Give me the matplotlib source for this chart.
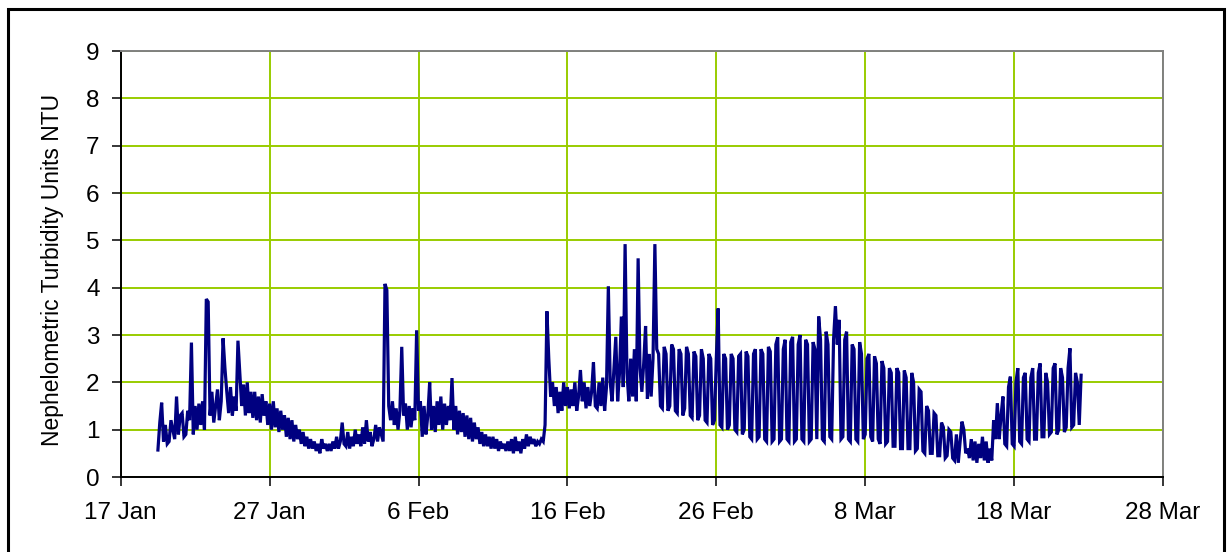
import numpy as np
import pandas as pd
import matplotlib
matplotlib.use("Agg")
import matplotlib.pyplot as plt
from matplotlib.patches import Rectangle

# ---------------- data (NTU, 3-hourly, starting 19 Jan 12:00) ----------------
series_start = "2007-01-19 12:00"
step = "3h"

turb_late_jan = [
    0.57, 1.15, 1.57, 0.75,                            # 19 Jan (from 12:00)
    1.10, 0.70, 0.75, 1.20, 1.00, 0.80, 1.70, 0.90,    # 20
    1.30, 1.35, 0.85, 0.90, 1.40, 1.20, 2.84, 0.90,    # 21
    1.50, 1.00, 1.55, 1.10, 1.60, 1.00, 3.76, 3.70,    # 22
    1.30, 1.80, 1.15, 1.50, 1.85, 1.20, 1.60, 2.93,    # 23
    2.30, 1.80, 1.35, 1.90, 1.30, 1.70, 1.40, 2.88,    # 24
    2.20, 1.50, 1.95, 1.30, 2.00, 1.35, 1.80, 1.25,    # 25
    1.80, 1.20, 1.70, 1.15, 1.75, 1.30, 1.60, 1.10,    # 26
    1.55, 1.00, 1.60, 1.05, 1.45, 0.95, 1.40, 1.00,    # 27
    1.30, 0.85, 1.25, 0.80, 1.20, 0.75, 1.10, 0.80,    # 28
    1.00, 0.70, 0.95, 0.65, 0.85, 0.60, 0.80, 0.60,    # 29
    0.75, 0.55, 0.70, 0.50, 0.80, 0.60, 0.70, 0.55,    # 30
    0.70, 0.55, 0.75, 0.60, 0.85, 0.60, 0.75, 1.15,    # 31
]

turb_early_feb = [
    0.70, 0.65, 0.95, 0.60, 0.85, 0.65, 1.00, 0.70,    # 1 Feb
    0.90, 0.65, 1.05, 0.70, 1.20, 0.75, 0.95, 0.65,    # 2
    0.80, 1.10, 0.75, 1.05, 0.90, 0.75, 4.08, 3.95,    # 3
    1.50, 1.20, 1.60, 1.10, 1.45, 1.00, 1.40, 2.75,    # 4
    1.30, 1.55, 1.00, 1.50, 1.05, 1.45, 1.20, 3.10,    # 5
    1.40, 1.60, 0.85, 1.50, 0.90, 1.30, 2.00, 1.00,    # 6
    1.50, 0.95, 1.60, 1.10, 1.70, 1.00, 1.55, 1.10,    # 7
    1.50, 1.20, 2.09, 1.00, 1.50, 0.90, 1.40, 0.95,    # 8
    1.35, 0.85, 1.30, 0.80, 1.25, 0.75, 1.15, 0.80,    # 9
    1.05, 0.70, 0.95, 0.65, 0.90, 0.65, 0.85, 0.60,    # 10
    0.85, 0.60, 0.80, 0.55, 0.75, 0.60, 0.70, 0.55,    # 11
    0.75, 0.55, 0.80, 0.50, 0.85, 0.55, 0.75, 0.50,    # 12
    0.80, 0.60, 0.90, 0.65, 0.85, 0.70, 0.80, 0.65,    # 13
    0.75, 0.70, 0.80, 0.75, 1.10, 3.50, 2.50, 1.70,    # 14
]

turb_late_feb = [
    2.00, 1.50, 1.90, 1.35, 1.80, 1.40, 2.00, 1.50,    # 15 Feb
    1.90, 1.45, 1.85, 1.50, 2.00, 1.40, 1.70, 2.26,    # 16
    1.60, 2.00, 1.45, 1.90, 1.50, 1.80, 2.42, 1.50,    # 17
    1.45, 2.00, 1.50, 2.10, 1.40, 1.90, 4.03, 2.00,    # 18
    1.60, 2.30, 2.96, 1.60, 2.20, 3.39, 1.90, 4.92,    # 19
    2.20, 1.60, 2.50, 1.70, 2.70, 1.60, 4.62, 2.30,    # 20
    1.80, 2.40, 3.19, 1.65, 2.60, 1.70, 2.50, 4.92,    # 21
    2.70, 2.60, 1.50, 1.45, 2.75, 2.60, 1.40, 1.50,    # 22
    2.80, 2.70, 1.40, 1.35, 2.70, 2.60, 1.30, 1.45,    # 23
    2.75, 2.60, 1.30, 1.25, 2.65, 2.55, 1.20, 1.30,    # 24
    2.70, 2.50, 1.20, 1.15, 2.60, 2.50, 1.10, 1.20,    # 25
    2.50, 3.56, 1.10, 1.05, 2.60, 2.50, 1.00, 1.10,    # 26
    2.60, 2.50, 1.00, 0.95, 2.55, 2.60, 0.90, 1.00,    # 27
    2.65, 2.55, 0.85, 0.80, 2.60, 2.70, 0.80, 0.85,    # 28
]

turb_early_mar = [
    2.70, 2.60, 0.80, 0.75, 2.75, 2.65, 0.75, 0.80,    # 1 Mar
    2.80, 2.95, 0.75, 0.80, 2.70, 2.90, 0.80, 0.75,    # 2
    2.85, 2.96, 0.75, 0.80, 2.80, 3.00, 0.80, 0.75,    # 3
    2.90, 2.80, 0.75, 0.80, 2.85, 2.70, 0.80, 3.39,    # 4
    2.90, 0.80, 0.75, 3.07, 2.80, 0.85, 0.80, 2.90,    # 5
    3.61, 2.80, 3.32, 0.80, 0.85, 2.90, 3.07, 0.80,    # 6
    0.75, 2.80, 2.70, 0.80, 0.75, 2.85, 2.60, 0.80,    # 7
    0.90, 2.50, 2.60, 0.85, 0.75, 2.55, 2.40, 0.80,    # 8
    0.70, 2.45, 2.30, 0.70, 0.75, 2.30, 2.20, 0.65,    # 9
    0.65, 2.30, 2.20, 0.60, 0.60, 2.25, 2.10, 0.60,    # 10
    0.60, 2.20, 2.00, 0.55, 0.60, 1.85, 1.80, 0.55,    # 11
    0.50, 1.50, 1.40, 0.50, 0.50, 1.35, 1.30, 0.45,    # 12
    0.45, 1.15, 1.05, 0.40, 0.45, 1.00, 0.95, 0.40,    # 13
    0.35, 0.90, 0.30, 0.75, 1.17, 1.00, 0.50, 0.60,    # 14
]

turb_late_mar = [
    0.40, 0.80, 0.35, 0.75, 0.30, 0.70, 0.40, 0.85,    # 15 Mar
    0.35, 0.75, 0.30, 0.60, 0.35, 1.20, 0.80, 1.56,    # 16
    0.80, 1.30, 1.70, 0.70, 0.65, 1.90, 2.12, 0.70,    # 17
    0.65, 2.00, 2.30, 0.75, 0.70, 2.10, 2.20, 0.80,    # 18
    0.75, 2.10, 2.30, 0.80, 0.80, 2.20, 2.40, 0.85,    # 19
    0.85, 2.20, 2.00, 0.90, 0.95, 2.30, 2.40, 0.90,    # 20
    1.00, 2.30, 2.10, 0.95, 1.05, 2.30, 2.72, 1.05,    # 21
    1.10, 2.20, 2.00, 1.10, 2.15,                      # 22 (to 12:00)
]

x_tick_start = "2007-01-17"
x_tick_labels = ["17 Jan", "27 Jan", "6 Feb", "16 Feb", "26 Feb",
                 "8 Mar", "18 Mar", "28 Mar"]
y_ticks = [0, 1, 2, 3, 4, 5, 6, 7, 8, 9]
y_label = "Nephelometric Turbidity Units NTU"

# ---------------- build ----------------
values = np.array(turb_late_jan + turb_early_feb + turb_late_feb
                  + turb_early_mar + turb_late_mar)
times = pd.date_range(series_start, periods=len(values), freq=step)
tick_dates = pd.date_range(x_tick_start, periods=len(x_tick_labels), freq="10D")

plt.rcParams["font.family"] = ["Liberation Sans", "DejaVu Sans"]

W, H = 1229, 552
fig = plt.figure(figsize=(W / 100, H / 100), dpi=100)
fig.patch.set_facecolor("white")

# outer chart border (bottom edge falls outside the picture)
fig.patches.append(Rectangle((7.5 / W, -0.05), (1223.5 - 7.5) / W, 1.05 - 8.5 / H,
                             transform=fig.transFigure, fill=False,
                             edgecolor="black", linewidth=2.2, zorder=0))

left, right, top, bottom = 120.7, 1163, 51, 477
ax = fig.add_axes([left / W, 1 - bottom / H, (right - left) / W, (bottom - top) / H])

grid_col = "#99CC00"
ax.set_xlim(tick_dates[0], tick_dates[-1])
ax.set_ylim(0, 9)
ax.set_yticks(y_ticks)
ax.set_xticks(tick_dates)
ax.set_xticklabels(x_tick_labels)

ax.grid(True, color=grid_col, linewidth=1.4, zorder=1)
ax.set_axisbelow(True)

ax.plot(times, values, color="#000080", linewidth=2.3, zorder=3,
        solid_joinstyle="miter")

for s in ["top", "right"]:
    ax.spines[s].set_color("#808080")
    ax.spines[s].set_linewidth(1.4)
for s in ["left", "bottom"]:
    ax.spines[s].set_color("black")
    ax.spines[s].set_linewidth(1.4)

ax.tick_params(axis="both", direction="out", length=6.2, width=1.1,
               colors="black", labelsize=17.5)
ax.tick_params(axis="y", pad=9)
ax.tick_params(axis="x", pad=12)

ax.text(-0.065, 0.485, y_label, transform=ax.transAxes, rotation=90,
        ha="center", va="center", fontsize=16.5)

fig.savefig("out.png", dpi=100)
